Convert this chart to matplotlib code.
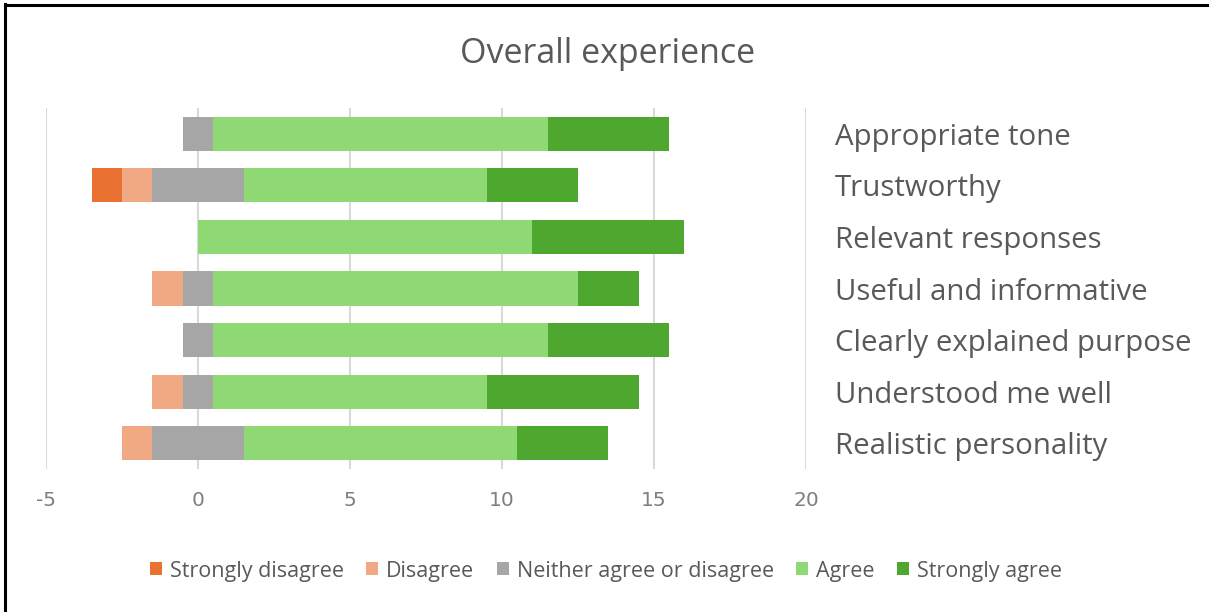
import matplotlib
matplotlib.use("Agg")
import matplotlib.pyplot as plt
import numpy as np
from matplotlib.lines import Line2D

categories = ["Appropriate tone", "Trustworthy", "Relevant responses",
              "Useful and informative", "Clearly explained purpose",
              "Understood me well", "Realistic personality"]
strongly_disagree = [0, 1, 0, 0, 0, 0, 0]
disagree = [0, 1, 0, 1, 0, 1, 1]
neutral = [1, 3, 0, 1, 1, 1, 3]
agree = [11, 8, 11, 12, 11, 9, 9]
strongly_agree = [4, 3, 5, 2, 4, 5, 3]

series_names = ["Strongly disagree", "Disagree", "Neither agree or disagree",
                "Agree", "Strongly agree"]
colors = ["#E97132", "#F1A983", "#A6A6A6", "#8ED973", "#4EA72E"]
xticks = [-5, 0, 5, 10, 15, 20]

W, H = 1209, 612
fig = plt.figure(figsize=(W / 100, H / 100), dpi=100)
ax = fig.add_axes([46 / W, 1 - 469 / H, 760 / W, 361 / H])

data = np.array([strongly_disagree, disagree, neutral, agree, strongly_agree], dtype=float)
start = -(data[0] + data[1] + data[2] / 2.0)
y = np.arange(len(categories))
left = start.copy()
for vals, name, c in zip(data, series_names, colors):
    ax.barh(y, vals, left=left, height=0.66, color=c, label=name, zorder=3)
    left = left + vals

ax.set_ylim(len(categories) - 0.5, -0.5)
ax.set_xlim(-5, 20)
ax.set_xticks(xticks)
ax.set_xticklabels([str(t) for t in xticks])
ax.grid(axis="x", color="#D9D9D9", linewidth=1.5, zorder=0)
ax.grid(axis="y", visible=False)
for s in ax.spines.values():
    s.set_visible(False)

ax.yaxis.tick_right()
ax.set_yticks(y)
ax.set_yticklabels(categories, fontsize=21.2, color="#595959", family="Open Sans")
ax.tick_params(axis="y", length=0, pad=21)
ax.tick_params(axis="x", length=0, pad=16, labelsize=14.5, labelcolor="#7F7F7F")

fig.text(608 / W, 1 - 54 / H, "Overall experience", ha="center", va="center",
         fontsize=24.5, color="#595959", family="Open Sans")

handles, labels = ax.get_legend_handles_labels()
leg = fig.legend(handles, labels, loc="center", bbox_to_anchor=(606 / W, 1 - 571 / H),
                 ncol=5, frameon=False, handlelength=0.55, handleheight=0.55,
                 handletextpad=0.37, columnspacing=1.05,
                 prop={"family": "Open Sans", "size": 15.5})
for t in leg.get_texts():
    t.set_color("#595959")

# figure border (top and left)
fig.add_artist(Line2D([4.5 / W, 1], [1 - 5 / H, 1 - 5 / H], transform=fig.transFigure,
                      color="black", linewidth=2.2))
fig.add_artist(Line2D([5 / W, 5 / W], [0, 1 - 4 / H], transform=fig.transFigure,
                      color="black", linewidth=2.2))

fig.savefig("out.png", dpi=100, facecolor="white")
